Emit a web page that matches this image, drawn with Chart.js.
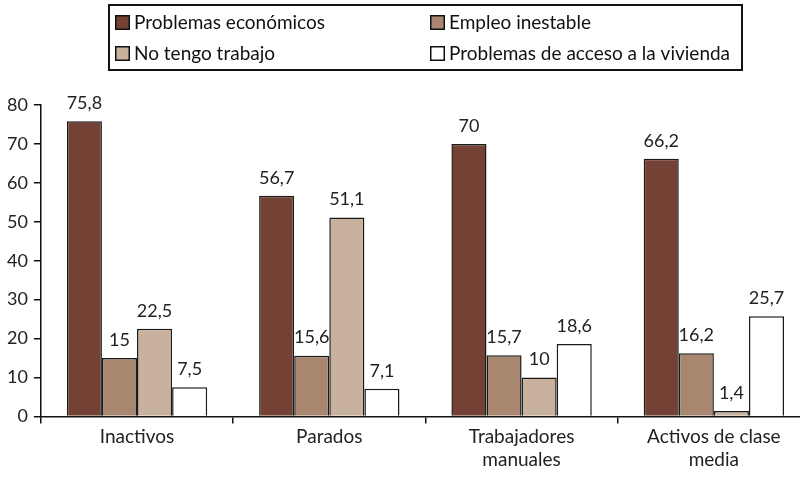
<!DOCTYPE html>
<html>
<head>
<meta charset="utf-8">
<script src="https://cdn.jsdelivr.net/npm/chart.js@4"></script>
<style>
  html, body { margin: 0; padding: 0; background: #fff; overflow: hidden; }
  #wrap { width: 800px; height: 482px; overflow: hidden; }
</style>
</head>
<body>
<div id="wrap"><canvas id="chart" width="812" height="482"></canvas></div>
<script>
// datos
const categorias = [['Inactivos'], ['Parados'], ['Trabajadores', 'manuales'], ['Activos de clase', 'media']];
const series = ['Problemas económicos', 'Empleo inestable', 'No tengo trabajo', 'Problemas de acceso a la vivienda'];
const economicos = [75.8, 56.7, 70, 66.2];
const empleo = [15, 15.6, 15.7, 16.2];
const sinTrabajo = [22.5, 51.1, 10, 1.4];
const vivienda = [7.5, 7.1, 18.6, 25.7];
const colores = ['#744234', '#a98670', '#c8b29e', '#ffffff'];

const FONT = 'Lato, "Open Sans", sans-serif';

function fmt(v) {
    return String(v).replace('.', ',');
}

// etiquetas de valor encima de cada barra
const valueLabels = {
    id: 'valueLabels',
    afterDatasetsDraw(chart) {
        const ctx = chart.ctx;
        ctx.save();
        ctx.font = '18px ' + FONT;
        ctx.fillStyle = '#222';
        ctx.textAlign = 'center';
        ctx.textBaseline = 'bottom';
        chart.data.datasets.forEach((ds, i) => {
            chart.getDatasetMeta(i).data.forEach((bar, j) => {
                ctx.fillText(fmt(ds.data[j]), bar.x, bar.y - 9);
            });
        });
        ctx.restore();
    }
};

// leyenda en recuadro, dos columnas
const boxLegend = {
    id: 'boxLegend',
    afterDraw(chart) {
        const ctx = chart.ctx;
        ctx.save();
        ctx.strokeStyle = '#111';
        ctx.lineWidth = 2;
        ctx.strokeRect(109, 5, 633, 65);
        ctx.font = '19px ' + FONT;
        ctx.textBaseline = 'middle';
        ctx.textAlign = 'left';
        const pos = [[115, 22], [430, 22], [115, 53], [430, 53]];
        chart.data.datasets.forEach((ds, i) => {
            const [x, y] = pos[i];
            ctx.fillStyle = ds.backgroundColor;
            ctx.fillRect(x, y - 7, 15, 15);
            ctx.lineWidth = 1.5;
            ctx.strokeStyle = '#111';
            ctx.strokeRect(x + 0.75, y - 6.25, 13.5, 13.5);
            ctx.fillStyle = '#111';
            ctx.fillText(ds.label, x + 19, y + 1);
        });
        ctx.restore();
    }
};

const datos = [economicos, empleo, sinTrabajo, vivienda];

new Chart(document.getElementById('chart'), {
    type: 'bar',
    data: {
        labels: categorias,
        datasets: series.map((s, i) => ({
            label: s,
            data: datos[i],
            backgroundColor: colores[i],
            borderColor: '#1a1a1a',
            borderWidth: 1.5,
            categoryPercentage: 0.73,
            barPercentage: 1
        }))
    },
    options: {
        responsive: false,
        animation: false,
        layout: { padding: { top: 105, left: 1, right: 2, bottom: 9 } },
        plugins: {
            legend: { display: false },
            tooltip: { enabled: false }
        },
        scales: {
            x: {
                grid: { display: true, drawOnChartArea: false, offset: true, tickLength: 7, color: '#111', lineWidth: 1.5 },
                border: { color: '#111', width: 1.5 },
                ticks: { color: '#222', font: { family: FONT, size: 19 }, padding: 2, maxRotation: 0 }
            },
            y: {
                min: 0,
                max: 80,
                ticks: { stepSize: 10, color: '#222', font: { family: FONT, size: 18 }, padding: 6 },
                grid: { drawOnChartArea: false, tickLength: 7, color: '#111', lineWidth: 1.5 },
                border: { color: '#111', width: 1.5 }
            }
        }
    },
    plugins: [valueLabels, boxLegend]
});
</script>
</body>
</html>
